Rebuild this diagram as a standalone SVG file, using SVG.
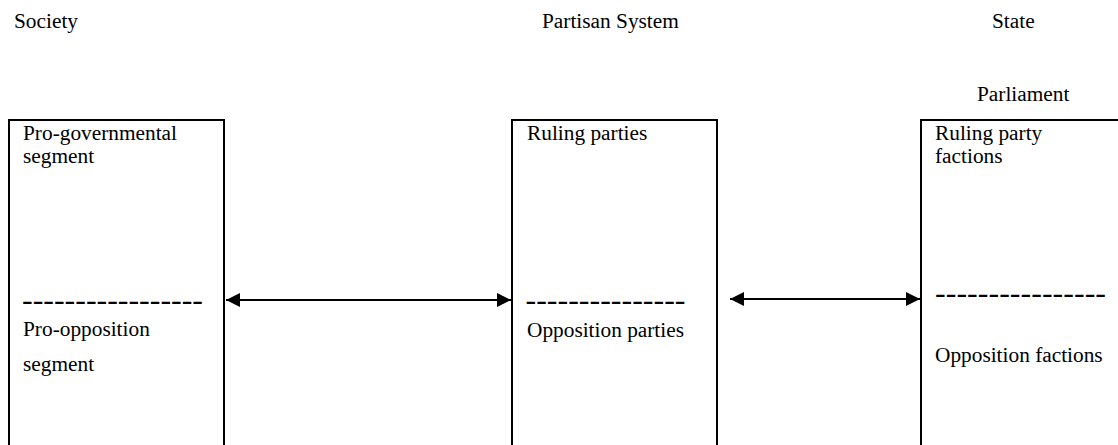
<svg xmlns="http://www.w3.org/2000/svg" width="1118" height="445" viewBox="0 0 1118 445">
<style>
text{font-family:"Liberation Serif","Times New Roman",serif;font-size:21.33px;fill:#000}
.dash{font-size:32px}
.box{fill:none;stroke:#000;stroke-width:2}
.conn{stroke:#000;stroke-width:2;fill:none}
</style>
<defs>
<marker id="ah" viewBox="0 0 10 10" refX="10" refY="5" markerWidth="8" markerHeight="7" markerUnits="strokeWidth" orient="auto-start-reverse">
<path d="M0,0 L10,5 L0,10 Z" fill="#000"/>
</marker>
</defs>
<rect width="1118" height="445" fill="#fff"/>
<g id="headers">
<text x="14" y="28">Society</text>
<text x="542" y="28">Partisan System</text>
<text x="992" y="28">State</text>
<text x="977" y="101">Parliament</text>
</g>
<g id="society">
<rect class="box" x="9" y="120" width="215" height="340"/>
<text x="23" y="140">Pro-governmental</text>
<text x="23" y="163">segment</text>
<text class="dash" x="22" y="309.5" textLength="181" lengthAdjust="spacing">-----------------</text>
<text x="23" y="336">Pro-opposition</text>
<text x="23" y="371">segment</text>
</g>
<g id="partisan">
<rect class="box" x="512" y="120" width="205" height="340"/>
<text x="527" y="140">Ruling parties</text>
<text class="dash" x="525.5" y="309.5" textLength="160" lengthAdjust="spacing">---------------</text>
<text x="527" y="337">Opposition parties</text>
</g>
<g id="parliament">
<rect class="box" x="921" y="120" width="220" height="340"/>
<text x="935" y="140">Ruling party</text>
<text x="935" y="163">factions</text>
<text class="dash" x="935" y="303.2" textLength="171" lengthAdjust="spacing">----------------</text>
<text x="935" y="362">Opposition factions</text>
</g>
<g id="connectors">
<line class="conn" x1="226" y1="300" x2="511" y2="300" marker-start="url(#ah)" marker-end="url(#ah)"/>
<line class="conn" x1="730" y1="299" x2="920" y2="299" marker-start="url(#ah)" marker-end="url(#ah)"/>
</g>
</svg>
